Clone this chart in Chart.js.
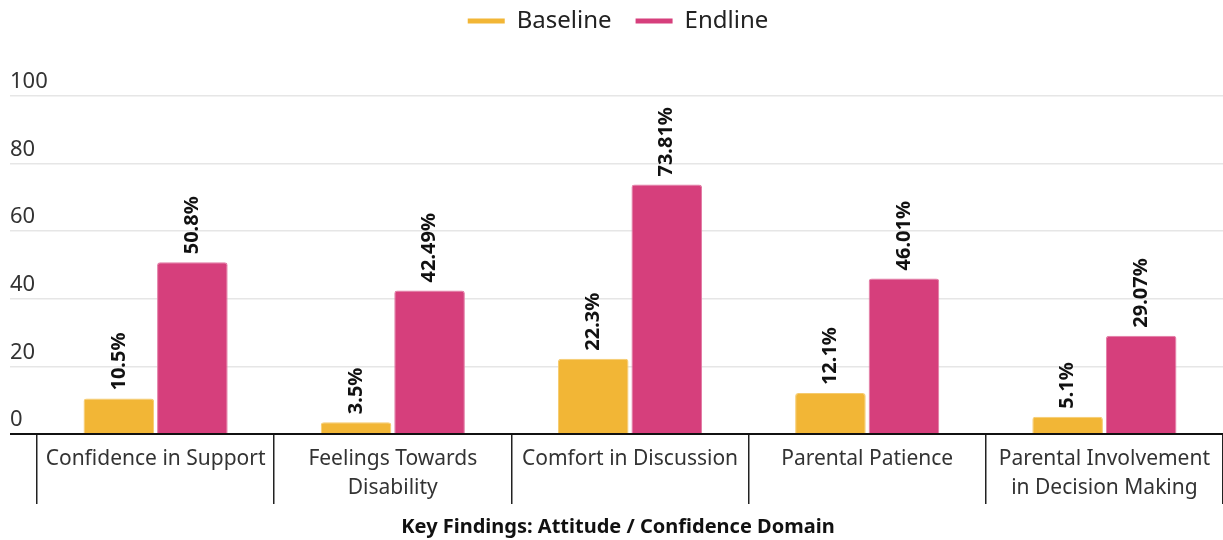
<!DOCTYPE html>
<html>
<head>
<meta charset="utf-8">
<script src="https://cdn.jsdelivr.net/npm/chart.js@4"></script>
<style>
  html, body { margin: 0; padding: 0; background: #ffffff; }
  #wrap { width: 1223px; height: 540px; }
</style>
</head>
<body>
<div id="wrap"><canvas id="chart" width="1223" height="540"></canvas></div>
<script>
// Attitude / confidence domain: share of respondents (%) at baseline and endline
const categories = [
  ['Confidence in Support'],
  ['Feelings Towards', 'Disability'],
  ['Comfort in Discussion'],
  ['Parental Patience'],
  ['Parental Involvement', 'in Decision Making']
];
const baselineValues = [10.5, 3.5, 22.3, 12.1, 5.1];
const endlineValues = [50.8, 42.49, 73.81, 46.01, 29.07];
const yTicks = [0, 20, 40, 60, 80, 100];

const FONT = "'Noto Sans', 'DejaVu Sans', sans-serif";

// Rotated value labels above each bar
const valueLabels = {
  id: 'valueLabels',
  afterDatasetsDraw(chart) {
    const ctx = chart.ctx;
    ctx.save();
    ctx.font = 'bold 20px ' + FONT;
    ctx.fillStyle = '#111111';
    ctx.textAlign = 'left';
    ctx.textBaseline = 'middle';
    chart.data.datasets.forEach((ds, di) => {
      const meta = chart.getDatasetMeta(di);
      meta.data.forEach((bar, i) => {
        ctx.save();
        ctx.translate(bar.x, bar.y - 8);
        ctx.rotate(-Math.PI / 2);
        ctx.fillText(ds.data[i] + '%', 0, 0);
        ctx.restore();
      });
    });
    ctx.restore();
  }
};

// Leave room between the legend and the plot area
const legendSpace = {
  id: 'legendSpace',
  beforeInit(chart) {
    const fit = chart.legend.fit;
    chart.legend.fit = function () {
      fit.call(this);
      this.height = 111;
    };
  }
};

new Chart(document.getElementById('chart'), {
  type: 'bar',
  data: {
    labels: categories,
    datasets: [
      {
        label: 'Baseline',
        data: baselineValues,
        backgroundColor: '#F2B636',
        borderColor: '#F6CB6E',
        borderWidth: 1,
        borderRadius: 3,
        borderSkipped: 'bottom'
      },
      {
        label: 'Endline',
        data: endlineValues,
        backgroundColor: '#D63F7C',
        borderColor: '#E27AA4',
        borderWidth: 1,
        borderRadius: 3,
        borderSkipped: 'bottom'
      }
    ]
  },
  options: {
    responsive: false,
    animation: false,
    events: [],
    layout: { padding: { top: -15, left: 10, right: -3, bottom: 0 } },
    datasets: {
      bar: { categoryPercentage: 0.62, barPercentage: 0.96 }
    },
    plugins: {
      legend: {
        position: 'top',
        align: 'center',
        labels: {
          boxWidth: 37,
          boxHeight: 5,
          padding: 24,
          color: '#222222',
          font: { family: FONT, size: 24 },
          generateLabels(chart) {
            return chart.data.datasets.map((ds, i) => ({
              text: ds.label,
              fillStyle: ds.backgroundColor,
              strokeStyle: ds.backgroundColor,
              lineWidth: 0,
              fontColor: '#222222',
              datasetIndex: i
            }));
          }
        }
      },
      title: {
        display: true,
        position: 'bottom',
        text: 'Key Findings: Attitude / Confidence Domain',
        color: '#111111',
        font: { family: FONT, size: 20, weight: 'bold' },
        padding: { top: 4, bottom: 1 }
      },
      tooltip: { enabled: false }
    },
    scales: {
      x: {
        grid: {
          display: true,
          offset: true,
          drawOnChartArea: false,
          drawTicks: true,
          tickLength: 70,
          color: '#222222',
          lineWidth: 1.5
        },
        border: { display: true, color: '#111111', width: 2 },
        ticks: {
          color: '#333333',
          padding: -60,
          maxRotation: 0,
          autoSkip: false,
          font: { family: FONT, size: 21, lineHeight: 1.4 }
        },
        afterFit(scale) { scale.height = 77; }
      },
      y: {
        min: 0,
        max: 100,
        afterBuildTicks(scale) {
          scale.ticks = yTicks.map(v => ({ value: v }));
        },
        grid: {
          color: ctx => (ctx.tick && ctx.tick.value === 0 ? '#111111' : '#e6e6e6'),
          lineWidth: ctx => (ctx.tick && ctx.tick.value === 0 ? 2 : 1.5),
          drawTicks: true,
          tickLength: 27
        },
        border: { display: false },
        ticks: {
          color: '#333333',
          mirror: true,
          crossAlign: 'near',
          padding: -27,
          labelOffset: -14,
          font: { family: FONT, size: 22 }
        },
        afterFit(scale) { scale.width = 27; }
      }
    }
  },
  plugins: [valueLabels, legendSpace]
});
</script>
</body>
</html>
